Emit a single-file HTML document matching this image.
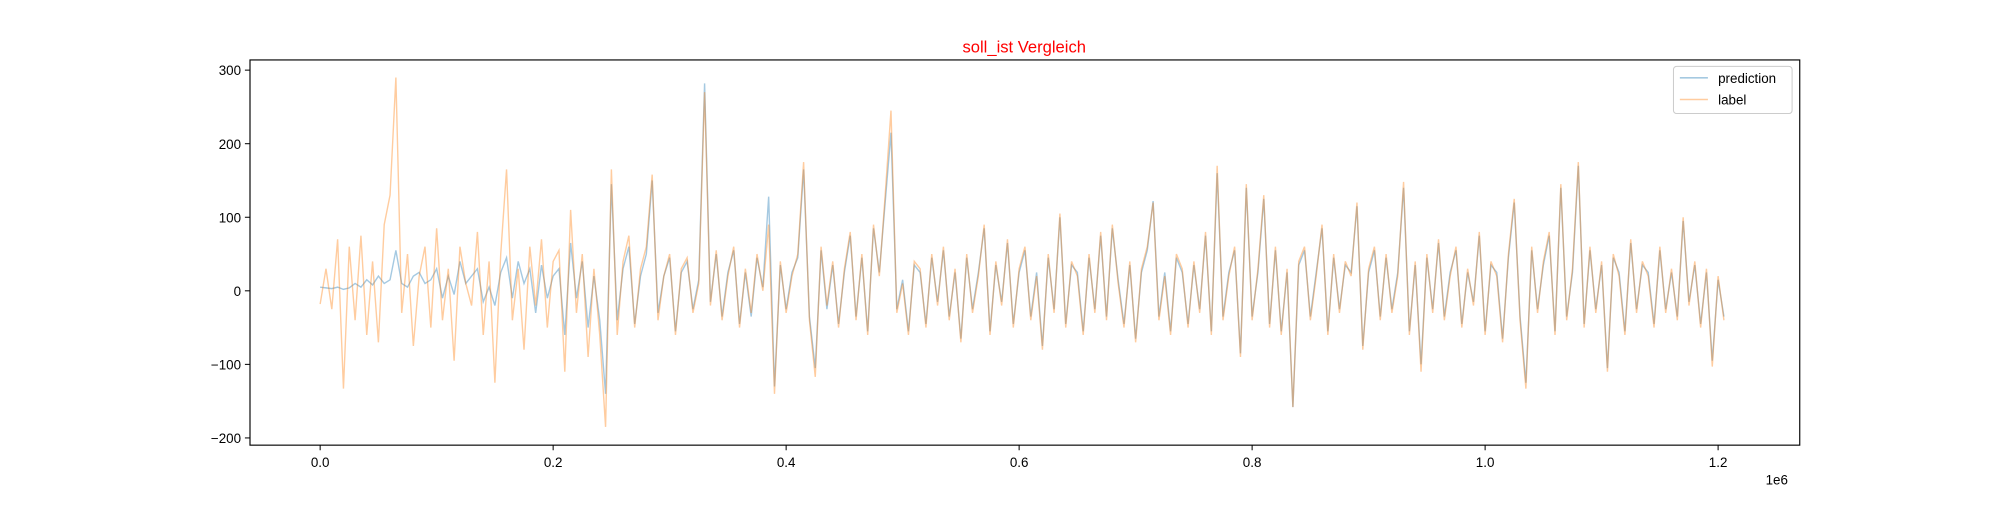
<!DOCTYPE html>
<html><head><meta charset="utf-8"><style>
body{margin:0;background:#fff;}
svg text{font-family:"Liberation Sans",sans-serif;}
</style></head><body>
<svg id="chart" width="2000" height="500" viewBox="0 0 1568 392" xmlns="http://www.w3.org/2000/svg">
<rect width="1568" height="392" fill="#fff"/>
<text x="803" y="41" font-size="13" fill="red" text-anchor="middle">soll_ist Vergleich</text>
<g id="plot"></g>
<rect x="196" y="47" width="1215" height="302" fill="none" stroke="#000" stroke-width="0.9"/>
<g id="axes"></g>
<g>
<rect x="1312" y="52" width="93" height="37" rx="2.5" fill="#fff" fill-opacity="0.8" stroke="#ccc" stroke-width="0.8"/>
<line x1="1317" y1="61" x2="1339" y2="61" stroke="#1f77b4" stroke-opacity="0.4" stroke-width="1.2"/>
<text x="1347" y="65" font-size="10.5">prediction</text>
<line x1="1317" y1="78" x2="1339" y2="78" stroke="#ff7f0e" stroke-opacity="0.4" stroke-width="1.2"/>
<text x="1347" y="82" font-size="10.5">label</text>
</g>
<text x="1393" y="380" font-size="10.5" text-anchor="middle">1e6</text>
</svg>
<script>
const xStep = 5000;
const xTicks = [0, 0.2, 0.4, 0.6, 0.8, 1.0, 1.2];
const yTicks = [300, 200, 100, 0, -100, -200];
const labelValues = [
-18,30,-25,70,-133,60,-40,75,-60,40,
-70,90,130,290,-30,50,-75,20,60,-50,
85,-40,30,-95,60,10,-20,80,-60,40,
-125,50,165,-40,30,-80,60,-20,70,-50,
40,55,-110,110,-30,50,-90,30,-60,-185,
165,-60,40,75,-50,30,60,158,-40,20,
50,-60,30,45,-30,10,270,-20,55,-40,
20,60,-50,30,-30,50,0,90,-140,40,
-30,20,50,175,-40,-117,60,-20,40,-50,
30,80,-40,50,-60,90,20,130,245,-30,
10,-60,40,30,-50,50,-20,60,-40,30,
-70,50,-30,20,90,-60,40,-20,70,-50,
30,60,-40,20,-80,50,-30,105,-50,40,
20,-60,50,-30,80,-40,90,10,-50,40,
-70,30,60,120,-40,20,-60,50,30,-50,
40,-30,80,-60,170,-40,20,60,-90,145,
-40,30,130,-50,60,-60,30,-158,40,60,
-40,20,90,-60,50,-30,40,20,120,-80,
30,60,-40,50,-30,20,148,-60,40,-110,
50,-30,70,-40,20,60,-50,30,-20,80,
-60,40,20,-70,50,125,-40,-133,60,-30,
40,80,-60,145,-40,30,175,-50,60,-30,
40,-110,50,20,-60,70,-30,40,20,-50,
60,-30,30,-40,100,-20,40,-50,30,-103,
20,-40];
const predictionValues = [
5,4,3,5,2,4,10,5,15,8,
20,10,15,55,10,5,20,25,10,15,
30,-10,20,-5,40,10,20,30,-15,5,
-20,25,45,-10,40,10,30,-30,35,-10,
20,30,-60,65,-10,40,-50,20,-40,-140,
145,-40,30,60,-45,20,50,150,-30,20,
45,-55,25,40,-25,15,282,-15,50,-35,
25,55,-45,25,-35,45,5,128,-130,35,
-25,25,45,165,-35,-105,55,-25,35,-45,
25,75,-35,45,-55,85,25,120,215,-25,
15,-55,35,25,-45,45,-15,55,-35,25,
-65,45,-25,25,85,-55,35,-15,65,-45,
25,55,-35,25,-75,45,-25,100,-45,35,
25,-55,45,-25,75,-35,85,15,-45,35,
-65,25,55,122,-35,25,-55,45,25,-45,
35,-25,75,-55,160,-35,25,55,-85,140,
-35,25,125,-45,55,-55,25,-158,35,55,
-35,25,85,-55,45,-25,35,25,115,-75,
25,55,-35,45,-25,25,140,-55,35,-100,
45,-25,65,-35,25,55,-45,25,-15,75,
-55,35,25,-65,45,120,-35,-125,55,-25,
35,75,-55,140,-35,25,170,-45,55,-25,
35,-105,45,25,-55,65,-25,35,25,-45,
55,-25,25,-35,95,-15,35,-45,25,-95,
15,-35];
const NS='http://www.w3.org/2000/svg';
const X0=251, XPX=913.33/1e6;
const Y0=228, YPX=0.5767;
function xs(v){return X0+v*XPX;}
function ys(v){return Y0-v*YPX;}
const plot=document.getElementById('plot');
function series(vals,color,name){
  const p=document.createElementNS(NS,'path');
  let d='';
  vals.forEach((v,i)=>{d+=(i?'L':'M')+xs(i*xStep).toFixed(2)+' '+ys(v).toFixed(2);});
  p.setAttribute('d',d);p.setAttribute('fill','none');p.setAttribute('stroke',color);
  p.setAttribute('stroke-opacity','0.4');p.setAttribute('stroke-width','1.1');
  
  
  plot.appendChild(p);
}
series(predictionValues,'#1f77b4','prediction-line');
series(labelValues,'#ff7f0e','label-line');
const axes=document.getElementById('axes');
xTicks.forEach(t=>{
  const x=xs(t*1e6);
  const l=document.createElementNS(NS,'line');
  l.setAttribute('x1',x);l.setAttribute('x2',x);l.setAttribute('y1',349);l.setAttribute('y2',353);l.setAttribute('stroke','#000');l.setAttribute('stroke-width','0.8');
  
  
  axes.appendChild(l);
  const tx=document.createElementNS(NS,'text');
  tx.setAttribute('x',x);tx.setAttribute('y',366);tx.setAttribute('font-size','10.5');tx.setAttribute('text-anchor','middle');
  tx.textContent=t.toFixed(1);
  
  
  axes.appendChild(tx);
});
yTicks.forEach(t=>{
  const y=ys(t);
  const l=document.createElementNS(NS,'line');
  l.setAttribute('x1',192);l.setAttribute('x2',196);l.setAttribute('y1',y);l.setAttribute('y2',y);l.setAttribute('stroke','#000');l.setAttribute('stroke-width','0.8');
  
  
  axes.appendChild(l);
  const tx=document.createElementNS(NS,'text');
  tx.setAttribute('x',189);tx.setAttribute('y',y+4);tx.setAttribute('font-size','10.5');tx.setAttribute('text-anchor','end');
  tx.textContent=(t<0?'\u2212'+(-t):t);
  
  
  axes.appendChild(tx);
});
</script>
</body></html>
